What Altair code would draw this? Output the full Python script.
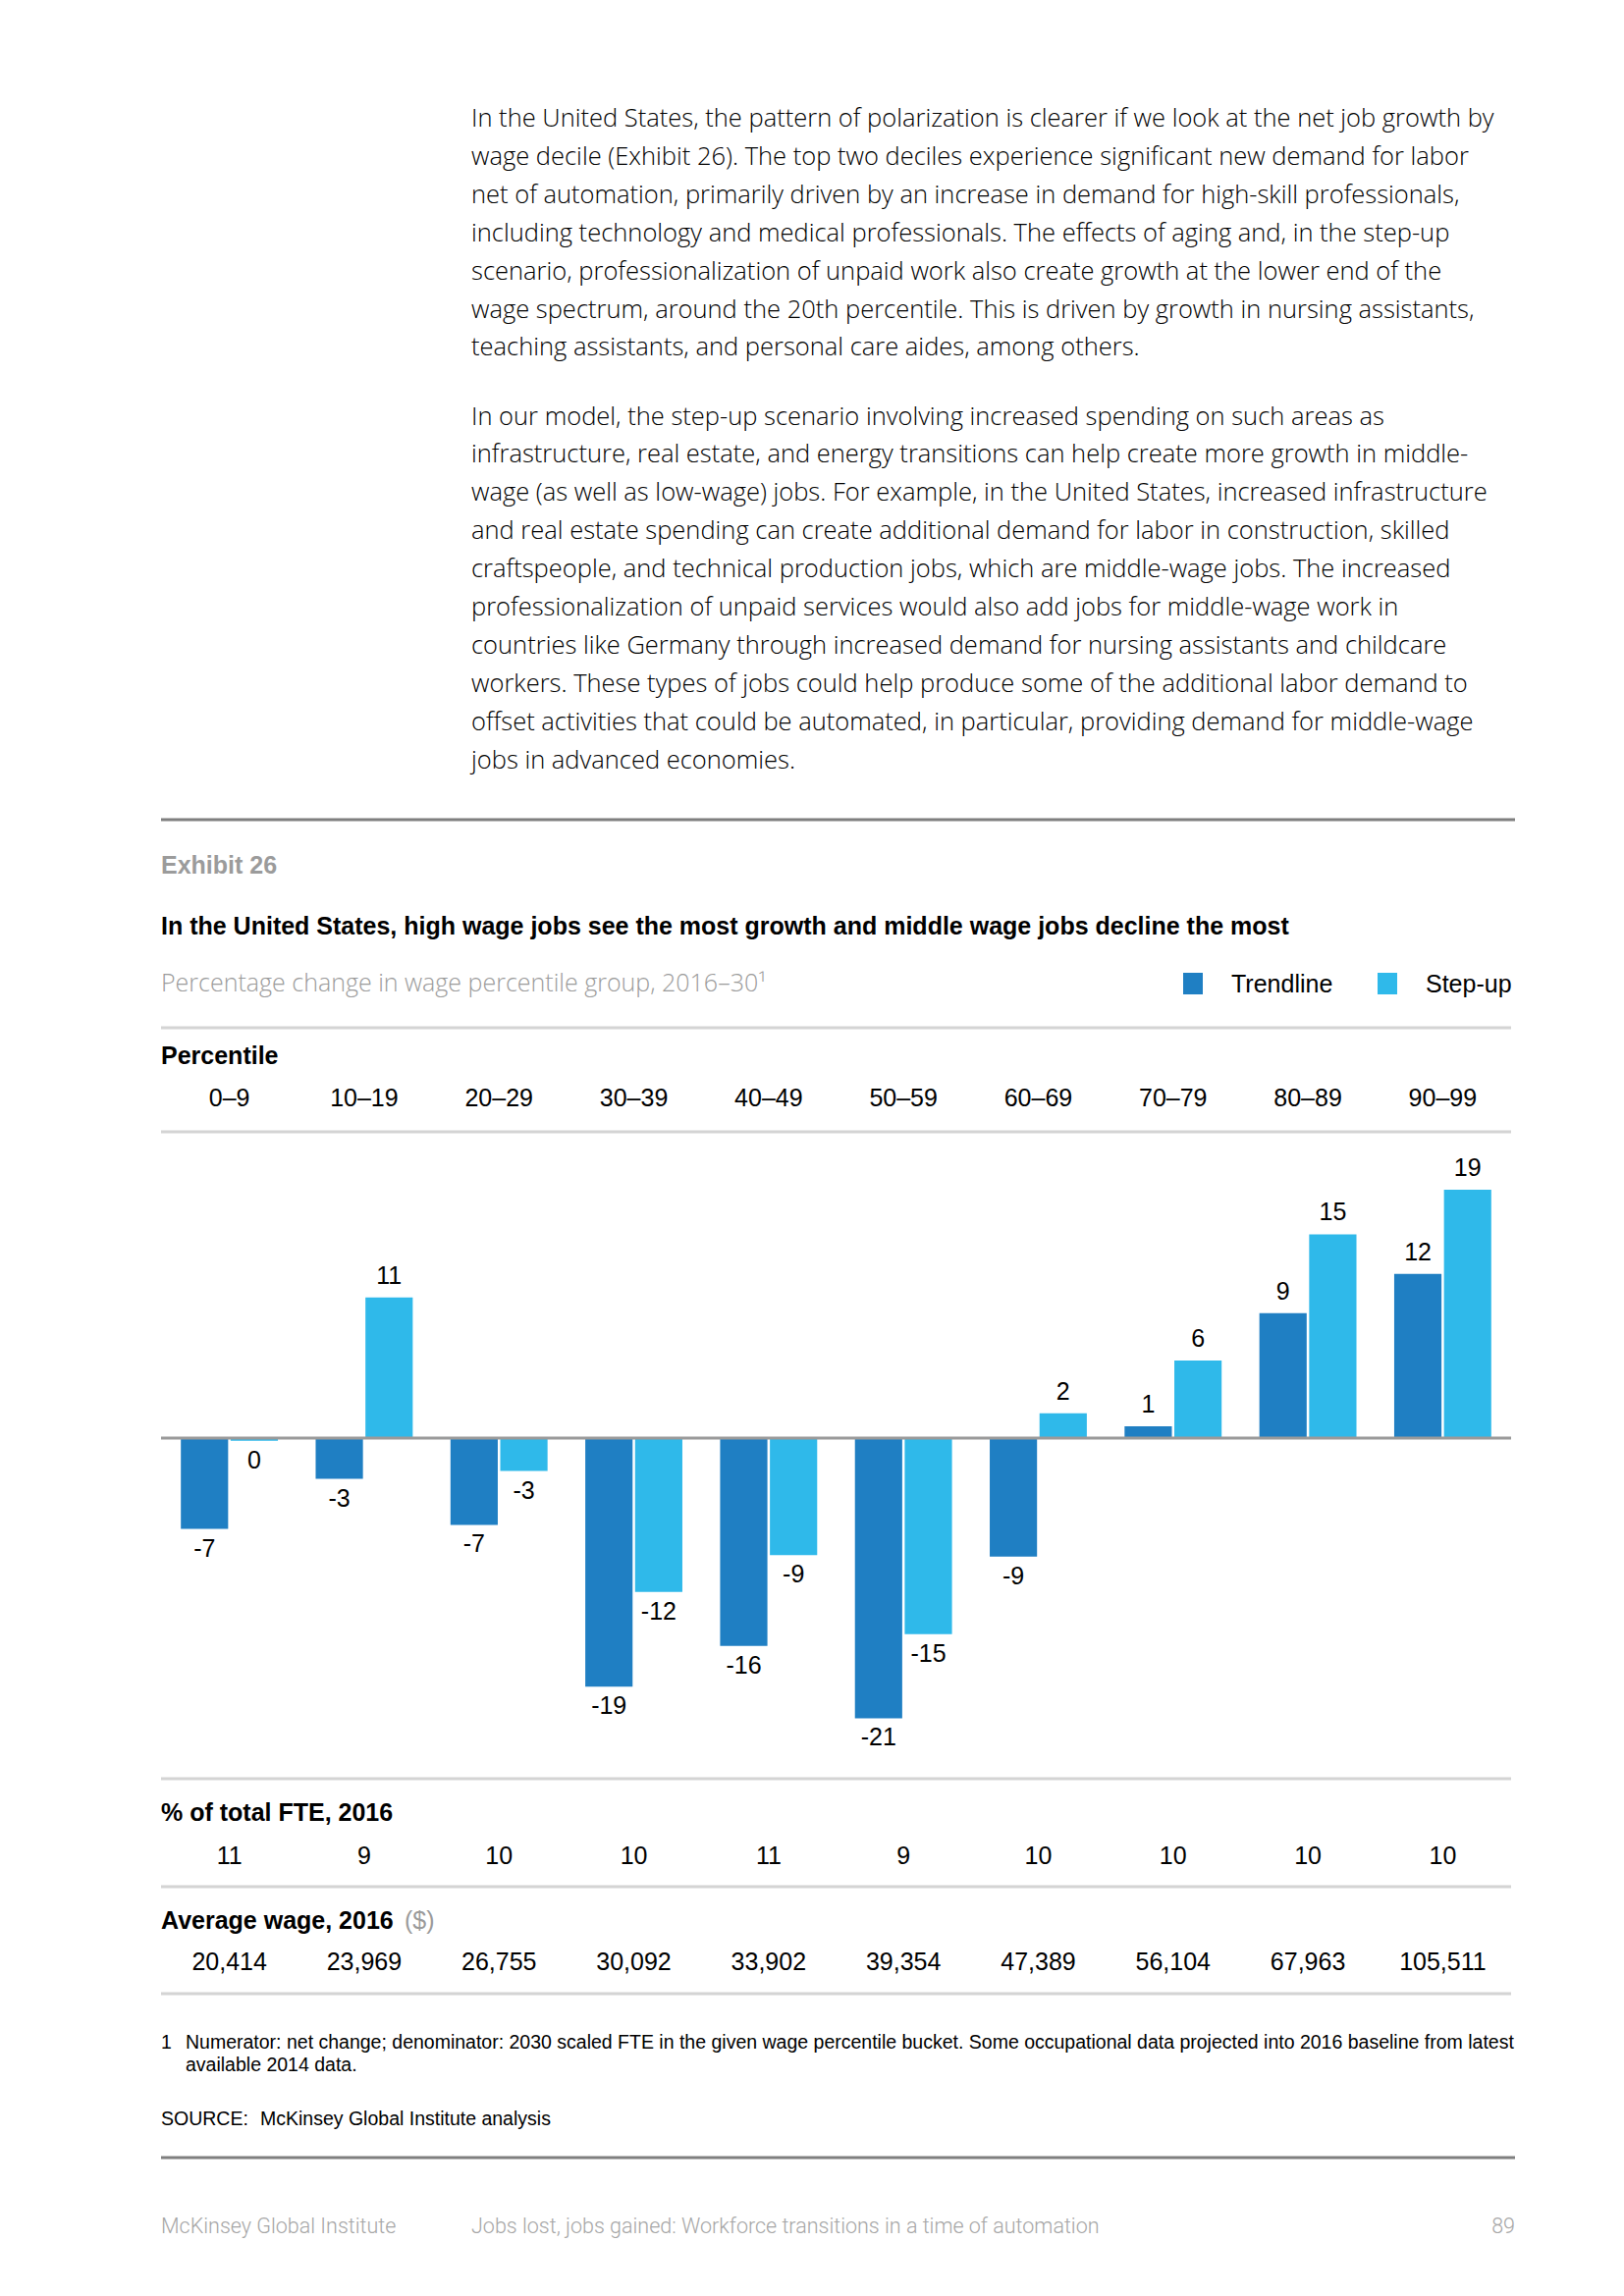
import altair as alt
import pandas as pd

# ---------------- data ----------------
categories = ["0–9", "10–19", "20–29", "30–39", "40–49", "50–59", "60–69", "70–79", "80–89", "90–99"]
series_names = ["Trendline", "Step-up"]
series_colors = ["#1F7FC3", "#2FB9EA"]
trend_values = [-6.9, -3.1, -6.6, -18.9, -15.8, -21.3, -9.0, 0.9, 9.5, 12.5]
stepup_values = [-0.2, 10.7, -2.5, -11.7, -8.9, -14.9, 1.9, 5.9, 15.5, 18.9]
trend_labels = ["-7", "-3", "-7", "-19", "-16", "-21", "-9", "1", "9", "12"]
stepup_labels = ["0", "11", "-3", "-12", "-9", "-15", "2", "6", "15", "19"]
fte_share = ["11", "9", "10", "10", "11", "9", "10", "10", "10", "10"]
avg_wage = ["20,414", "23,969", "26,755", "30,092", "33,902", "39,354", "47,389", "56,104", "67,963", "105,511"]

para1 = [
    "In the United States, the pattern of polarization is clearer if we look at the net job growth by",
    "wage decile (Exhibit 26). The top two deciles experience significant new demand for labor",
    "net of automation, primarily driven by an increase in demand for high-skill professionals,",
    "including technology and medical professionals. The effects of aging and, in the step-up",
    "scenario, professionalization of unpaid work also create growth at the lower end of the",
    "wage spectrum, around the 20th percentile. This is driven by growth in nursing assistants,",
    "teaching assistants, and personal care aides, among others.",
]
para2 = [
    "In our model, the step-up scenario involving increased spending on such areas as",
    "infrastructure, real estate, and energy transitions can help create more growth in middle-",
    "wage (as well as low-wage) jobs. For example, in the United States, increased infrastructure",
    "and real estate spending can create additional demand for labor in construction, skilled",
    "craftspeople, and technical production jobs, which are middle-wage jobs. The increased",
    "professionalization of unpaid services would also add jobs for middle-wage work in",
    "countries like Germany through increased demand for nursing assistants and childcare",
    "workers. These types of jobs could help produce some of the additional labor demand to",
    "offset activities that could be automated, in particular, providing demand for middle-wage",
    "jobs in advanced economies.",
]
footnote = [
    "Numerator: net change; denominator: 2030 scaled FTE in the given wage percentile bucket. Some occupational data projected into 2016 baseline from latest",
    "available 2014 data.",
]

# ---------------- layout ----------------
OX, OY = 164, 1153          # plot-area origin on the page
W, H = 1375, 659            # plot-area size
PAGE_W, PAGE_H = 1638, 2323

def px(X):
    return X - OX

def py(Y):
    return Y - OY

SANS = "Liberation Sans"
BODY = "Open Sans"
LIGHT = "Roboto"
DARK = "#000000"
GREY = "#9B9B9B"


def text(txt, X, Y, size=23, weight="normal", color=DARK, font=SANS, align="left", lh=None):
    kw = dict(align=align, baseline="alphabetic", fontSize=size, fontWeight=weight,
              color=color, font=font)
    if lh is not None:
        kw["lineBreak"] = "\n"
        kw["lineHeight"] = lh
    return alt.Chart(pd.DataFrame({"t": [txt]})).mark_text(**kw).encode(
        x=alt.value(px(X)), y=alt.value(py(Y)), text="t:N")


def hrule(Y, X1, X2, color, width):
    return alt.Chart(pd.DataFrame({"r": [0]})).mark_rule(color=color, strokeWidth=width).encode(
        x=alt.value(px(X1)), x2=alt.value(px(X2)), y=alt.value(py(Y)))


def rect(X1, X2, Y1, Y2, color):
    return alt.Chart(pd.DataFrame({"r": [0]})).mark_rect(color=color).encode(
        x=alt.value(px(X1)), x2=alt.value(px(X2)), y=alt.value(py(Y1)), y2=alt.value(py(Y2)))


# ---------------- chart ----------------
bars_df = pd.DataFrame({
    "category": categories * 2,
    "series": [series_names[0]] * len(categories) + [series_names[1]] * len(categories),
    "value": trend_values + stepup_values,
    "label": trend_labels + stepup_labels,
})
cat_df = pd.DataFrame({"category": categories, "fte": fte_share, "wage": avg_wage})

xs = alt.X("category:N",
           scale=alt.Scale(domain=categories, paddingInner=0.28, paddingOuter=0.147), axis=None)
ys = alt.Y("value:Q",
           scale=alt.Scale(domain=[-25.9, 23.3], nice=False), axis=None)
xo = alt.XOffset("series:N",
                 scale=alt.Scale(domain=series_names, paddingInner=0.05, paddingOuter=0))
col = alt.Color("series:N", scale=alt.Scale(domain=series_names, range=series_colors), legend=None)

bars = alt.Chart(bars_df).mark_bar().encode(x=xs, xOffset=xo, y=ys, color=col)

NUM = 25
lab_style = dict(font=SANS, fontSize=NUM, color=DARK, baseline="alphabetic", align="center")
pos_lab = alt.Chart(bars_df).transform_filter("datum.value >= 0").mark_text(dy=-14, **lab_style).encode(
    x=xs, xOffset=xo, y=ys, text="label:N")
neg_lab = alt.Chart(bars_df).transform_filter("datum.value < 0").mark_text(dy=28, **lab_style).encode(
    x=xs, xOffset=xo, y=ys, text="label:N")

zero_line = alt.Chart(pd.DataFrame({"value": [0]})).mark_rule(color="#9A9A9A", strokeWidth=3).encode(
    x=alt.value(0), x2=alt.value(W), y=ys)

row_style = dict(font=SANS, fontSize=NUM, color=DARK, baseline="alphabetic", align="center")
cat_row = alt.Chart(cat_df).mark_text(**row_style).encode(x=xs, y=alt.value(py(1127)), text="category:N")
fte_row = alt.Chart(cat_df).mark_text(**row_style).encode(x=xs, y=alt.value(py(1899)), text="fte:N")
wage_row = alt.Chart(cat_df).mark_text(**row_style).encode(x=xs, y=alt.value(py(2007)), text="wage:N")

LIGHT_RULE = "#D4D4D4"
DARK_RULE = "#7F7F7F"
BOLD = 25

layers = [
    text("\n".join(para1), 480, 129, size=25.5, weight=300, font=BODY, lh=38.9),
    text("\n".join(para2), 480, 432.5, size=25.5, weight=300, font=BODY, lh=38.9),
    hrule(835, 164, 1543, DARK_RULE, 3),
    text("Exhibit 26", 164, 890, size=BOLD, weight="bold", color=GREY),
    text("In the United States, high wage jobs see the most growth and middle wage jobs decline the most",
         164, 952, size=BOLD, weight="bold"),
    text("Percentage change in wage percentile group, 2016–30¹", 164, 1010, size=25, weight=300,
         color=GREY, font=BODY),
    rect(1205, 1225, 991, 1013, series_colors[0]),
    text(series_names[0], 1254, 1011, size=BOLD),
    rect(1403, 1423, 991, 1013, series_colors[1]),
    text(series_names[1], 1452, 1011, size=BOLD),
    hrule(1047, 164, 1539, LIGHT_RULE, 3),
    text("Percentile", 164, 1084, size=BOLD, weight="bold"),
    cat_row,
    hrule(1153, 164, 1539, LIGHT_RULE, 3),
    bars,
    zero_line,
    pos_lab,
    neg_lab,
    hrule(1812, 164, 1539, LIGHT_RULE, 3),
    text("% of total FTE, 2016", 164, 1855, size=BOLD, weight="bold"),
    fte_row,
    hrule(1922, 164, 1539, LIGHT_RULE, 3),
    text("Average wage, 2016", 164, 1965, size=BOLD, weight="bold"),
    text("($)", 412, 1965, size=BOLD, color=GREY),
    wage_row,
    hrule(2031, 164, 1539, LIGHT_RULE, 3),
    text("1", 164, 2087, size=19.5),
    text("\n".join(footnote), 189, 2087, size=19.5, lh=23),
    text("SOURCE:", 164, 2165, size=19.5),
    text("McKinsey Global Institute analysis", 265, 2165, size=19.5),
    hrule(2198, 164, 1543, DARK_RULE, 3),
    text("McKinsey Global Institute", 164, 2275, size=21.5, weight=300, color="#A6A6A6", font=LIGHT),
    text("Jobs lost, jobs gained: Workforce transitions in a time of automation", 480, 2275, size=21.5,
         weight=300, color="#A6A6A6", font=LIGHT),
    text("89", 1543, 2275, size=21.5, weight=300, color="#A6A6A6", font=LIGHT, align="right"),
]

chart = alt.layer(*layers).properties(
    width=W,
    height=H,
    autosize=alt.AutoSizeParams(type="none"),
    padding={"left": OX - 8, "top": OY - 8, "right": PAGE_W - (OX - 8) - W, "bottom": PAGE_H - (OY - 8) - H},
    background="white",
).configure_view(stroke=None)

chart.save("out.html", embed_options={"renderer": "svg", "actions": False})
